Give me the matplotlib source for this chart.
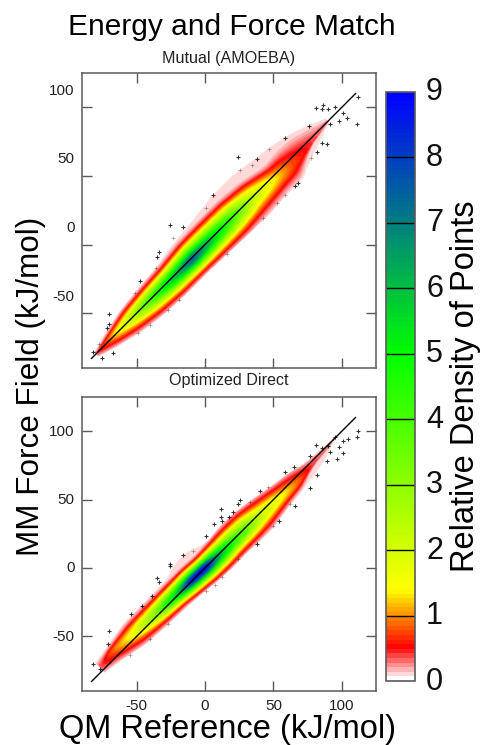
import numpy as np
import matplotlib
matplotlib.use("Agg")
import matplotlib.pyplot as plt
from matplotlib.colors import LinearSegmentedColormap
from matplotlib.transforms import ScaledTranslation

plt.rcParams['font.family'] = ['Liberation Sans', 'DejaVu Sans']
plt.rcParams['axes.unicode_minus'] = False

W, H = 481, 745
GRAY = '#5a5a5a'
MAIN_EDGE = 0.18
PALE = 0.12
MAIN_WIDEN = 1.12
OUTER_WIDEN = 1.08

# density ridge, along the diagonal (u = (x+y)/2, v = y-x)
mutual_u = [-80, -70, -55, -40, -25, -10, 5, 20, 35, 50, 60, 70, 80, 90]
mutual_main_up = [1.5, 6, 12, 14.5, 16, 19, 19.5, 19.5, 17, 11, 12, 10, 5, 1]
mutual_out_up = [2, 8, 13, 15.5, 18, 23, 25.5, 29, 29, 24.5, 22, 18, 12, 4]
mutual_main_low = [2.5, 8, 14.5, 18.5, 20, 20, 21, 22, 21, 19, 19, 10, 3, 0.5]
mutual_out_low = [3, 9, 15.5, 19.5, 20.7, 20.7, 21.5, 22.5, 23, 22, 22, 15.5, 9, 2]
mutual_peak = [0.3, 0.9, 2.2, 4, 5.8, 7.4, 5.8, 4, 2.2, 1.3, 0.8, 0.55, 0.35, 0.3]
mutual_off = [0, 1, 1, 0, -1, -1.5, -1, 0, 0, -3, -5, -6, -4, 0]

direct_u = [-75, -65, -50, -35, -20, -10, 0, 10, 20, 30, 40, 55, 65, 75, 85, 95]
direct_main_up = [8, 12, 16, 16, 16, 16, 14.5, 15.5, 17, 17, 14.5, 9.5, 7, 2.5, 1, 0.4]
direct_out_up = [10, 14, 18, 18, 18.5, 24, 24, 16, 18, 17.5, 15, 10, 7.5, 3, 1.5, 0.5]
direct_main_low = [1.5, 4, 10, 12, 13, 15, 17, 18, 17.5, 18, 18, 14, 12, 6, 2, 0.5]
direct_out_low = [2.5, 5, 11, 13, 14, 15.5, 17.5, 18.5, 18, 19, 19, 15, 14, 12, 8, 1]
direct_peak = [0.3, 0.8, 1.6, 3.2, 5.8, 8.6, 9, 6.3, 4.5, 3.5, 2.2, 1.4, 0.9, 0.45, 0.3, 0.3]
direct_off = [4, 7, 4.5, 2.5, 1, 0.5, 0, -1, -1.5, -1.5, -2.5, -4, -5, -4, -3, 0]

# outliers, the ones after n_strong are the faint ones at the edge of the cloud
mutual_x = [81.2, 85.9, 85.4, 90.2, 95.1, 111.7, 101.2, 104.1, 98, 91.5, 111.2, 76.1, 58.8, 85.6, 89.3, 82,
            23.9, 38.3, 68.3, 65.9, 6.1, -25.4, -15.9, -33.7, -35.4, -47.6, -70.2, -70.2, -71.7, -82, -67.3,
            -75.6, 58.5, 52.4, 42.7, 15.9, -19, -27.3, -40.5, -48.8, 47.1, 34.1, -23.7, -35.9, 0.5, 25.6, 77.6,
            -77.6, -51.2]
mutual_y = [99.5, 102, 98.5, 99, 100.5, 107.8, 95.9, 92.2, 89.8, 87.8, 87.6, 86.6, 77.8, 74.1, 73.4, 67.6,
            63.7, 62.2, 45.1, 42.7, 36.3, 14.1, 12.7, -5.6, -8.8, -26.3, -50.5, -57.8, -61.2, -78, -78.8,
            -82.9, 36.1, 30.5, 19.5, -6.8, -40.2, -47.6, -58.5, -64.6, 69.5, 58, 4.9, -17.1, 26.8, 54.4, 63.4,
            -72.4, -35.4]
mutual_strong = 32
direct_x = [111.7, 111.2, 104.4, 100.7, 95.1, 98, 101.2, 91.5, 89.3, 96.3, 81.2, 76.6, 85.4, 90.2, 64.9, 58.5,
            82, 77.1, 65.9, 54.1, 40.2, 25.6, 23.9, 20.2, 11.7, 11.7, 12.2, 6.8, 17.6, 0.7, 37.8, -25.4, -25.4,
            -16.3, -35.4, -33.7, -38.8, -54.4, -46.1, -70.2, -71.2, -82, -76.8, -55.1, -40.5, -27.3, 7.3, 0.7,
            12.2, 24.4, 50, 62.2, -8.5, 32.9, 46.3]
direct_y = [100.5, 95.6, 94.4, 92.7, 95.6, 88.8, 84.1, 85.1, 78.5, 79.8, 90.2, 82.2, 87.6, 89.5, 74.1, 70.5,
            67.6, 58.8, 45.6, 34.1, 55.9, 50, 46.8, 41.2, 43.2, 37.1, 34.1, 32.4, 37.3, 23.2, 17.6, 2.9, 1.7,
            9.5, -7.3, -10.5, -20.2, -33.9, -28, -46.3, -55.9, -70.2, -73.9, -63.7, -52, -41, -12.2, -16.6,
            -6.8, 6.6, 31, 46.8, 12.7, 48.5, 59]
direct_strong = 43

line_ends = [-83, 110]
xlim = (-90, 125)
ylim = (-90, 125)
axis_ticks = [-50, 0, 50, 100]
cbar_ticks = list(range(10))

cmap_stops = [0, 0.48, 1.37, 5, 9]
cmap_colors = ['#ffffff', '#ff0000', '#ffff00', '#00ff00', '#0000ff']
cmap = LinearSegmentedColormap.from_list(
    'density', [(s / 9, c) for s, c in zip(cmap_stops, cmap_colors)], N=128)


def along(u, u_st, vals):
    # table value along the ridge, rounded off a little so the bands have no kinks
    fine_u = np.arange(u_st[0] - 10, u_st[-1] + 11, 1.0)
    fine = np.interp(fine_u, u_st, vals)
    win = np.hanning(9)
    win = win / win.sum()
    fine = np.convolve(np.pad(fine, 4, mode='edge'), win, mode='valid')
    return np.interp(u, fine_u, fine)


def density_field(u_st, main_up, out_up, main_low, out_low, peak, off):
    xs = np.linspace(xlim[0], xlim[1], 700)
    ys = np.linspace(ylim[0], ylim[1], 700)
    X, Y = np.meshgrid(xs, ys)
    u = (X + Y) / 2
    v = Y - X
    pk = along(u, u_st, peak)
    cen = along(u, u_st, off)
    upper = v > cen
    d = np.abs(v - cen)
    main = np.where(upper, along(u, u_st, main_up) - cen, along(u, u_st, main_low) + cen)
    outer = np.where(upper, along(u, u_st, out_up) - cen, along(u, u_st, out_low) + cen)
    main = np.maximum(main, 0.5) * MAIN_WIDEN
    outer = np.maximum(outer, 0.5) * OUTER_WIDEN
    sigma = main / np.sqrt(2 * np.log(np.maximum(pk / MAIN_EDGE, 1.1)))
    z = pk * np.exp(-d ** 2 / (2 * sigma ** 2))
    # pale shelf out to the outline of the cloud
    shelf = 0.05 + (PALE - 0.05) * np.clip((outer - d) / 3, 0, 1)
    z = np.maximum(z, shelf)
    z[(d > outer) | (u < u_st[0]) | (u > u_st[-1])] = 0
    return z


def panel(box, field, px, py, strong, show_x, ylab_shift):
    ax = fig.add_axes(box)
    im = ax.imshow(field, origin='lower', extent=[*xlim, *ylim], cmap=cmap, vmin=0, vmax=9,
                   aspect='auto', interpolation='bilinear')
    ax.plot(px[:strong], py[:strong], '+', color='black', ms=3.5, mew=0.8, alpha=0.8)
    ax.plot(px[strong:], py[strong:], '+', color='black', ms=2.2, mew=0.5, alpha=0.4)
    ax.plot(line_ends, line_ends, color='black', lw=1)
    ax.set_xlim(xlim)
    ax.set_ylim(ylim)
    ax.set_xticks(axis_ticks)
    ax.set_yticks(axis_ticks)
    ax.tick_params(direction='in', length=7, width=1, color=GRAY, top=True, right=True,
                   labelsize=11, labelcolor='#222222', pad=3, labelbottom=show_x)
    for s in ax.spines.values():
        s.set_color(GRAY)
        s.set_linewidth(1.1)
    for lab in ax.get_yticklabels():
        lab.set_transform(lab.get_transform() + ScaledTranslation(-3 / 100, ylab_shift / 100, fig.dpi_scale_trans))
    if show_x:
        ax.tick_params(axis='x', pad=6)
    return im


def box(l, t, r, b):
    return [l / W, 1 - b / H, (r - l) / W, (b - t) / H]


fig = plt.figure(figsize=(W / 100, H / 100), dpi=100)

im = panel(box(82, 73, 376, 368),
           density_field(mutual_u, mutual_main_up, mutual_out_up, mutual_main_low, mutual_out_low,
                         mutual_peak, mutual_off),
           mutual_x, mutual_y, mutual_strong, False, 18)
panel(box(82, 397, 376, 691),
      density_field(direct_u, direct_main_up, direct_out_up, direct_main_low, direct_out_low,
                    direct_peak, direct_off),
      direct_x, direct_y, direct_strong, True, 1)

cax = fig.add_axes(box(386, 92, 415, 681))
cb = fig.colorbar(im, cax=cax, ticks=cbar_ticks)
cb.outline.set_edgecolor(GRAY)
cb.outline.set_linewidth(1.2)
cax.hlines(cbar_ticks[1:-1], 0, 1, color='black', lw=1, transform=cax.get_yaxis_transform())
cax.tick_params(length=0, labelsize=22, pad=8, labelcolor='#111111')
for lab in cax.get_yticklabels():
    lab.set_transform(lab.get_transform() + ScaledTranslation(0, 3 / 100, fig.dpi_scale_trans))

fig.text(232 / W, 1 - 35 / H, 'Energy and Force Match', ha='center', va='baseline', fontsize=21.5)
fig.text(229 / W, 1 - 59 / H, 'Mutual (AMOEBA)', ha='center', va='center', fontsize=11.6, color='#222222')
fig.text(229 / W, 1 - 381 / H, 'Optimized Direct', ha='center', va='center', fontsize=11.6, color='#222222')
fig.text(31 / W, 1 - 386 / H, 'MM Force Field (kJ/mol)', rotation=90, ha='center', va='center', fontsize=22.6)
fig.text(228 / W, 1 - 738 / H, 'QM Reference (kJ/mol)', ha='center', va='baseline', fontsize=23.5)
fig.text(466 / W, 1 - 386 / H, 'Relative Density of Points', rotation=90, ha='center', va='center', fontsize=23.5)

fig.savefig('out.png', dpi=100)
